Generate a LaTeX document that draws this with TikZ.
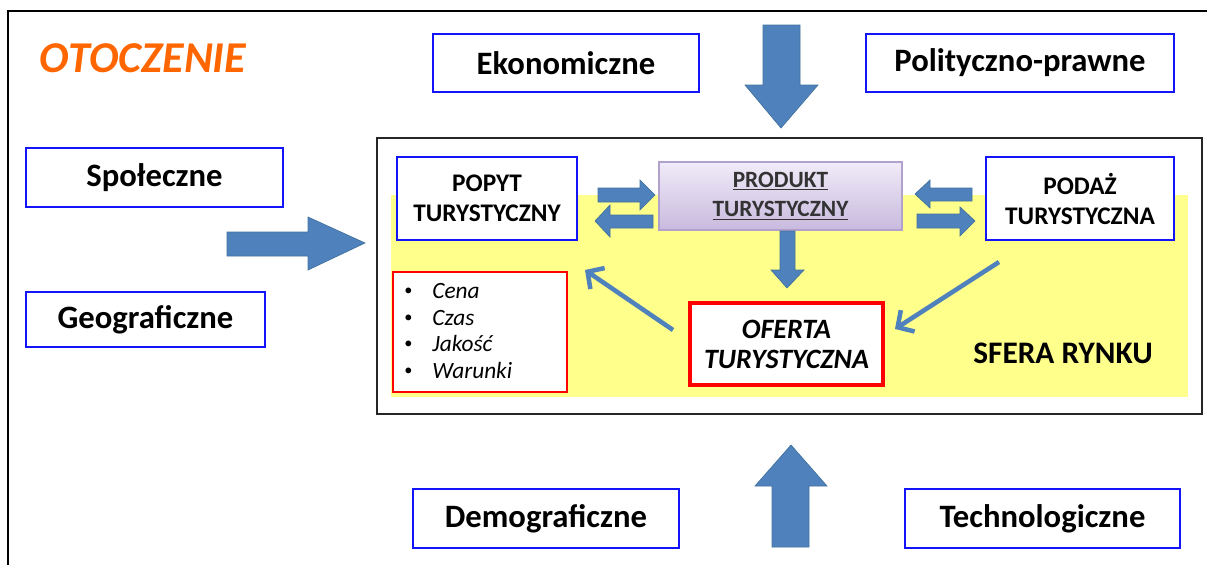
\documentclass[tikz,border=0pt]{standalone}
\usepackage{fontspec}
\setmainfont{Carlito}
\usetikzlibrary{arrows.meta}
\definecolor{boxblue}{RGB}{20,20,250}
\definecolor{arrowblue}{RGB}{79,129,189}
\definecolor{arrowedge}{RGB}{65,113,156}
\definecolor{sphere}{RGB}{255,255,140}
\definecolor{otoc}{RGB}{255,102,0}
\definecolor{prodtop}{RGB}{240,235,248}
\definecolor{prodbot}{RGB}{200,186,222}
\definecolor{prodedge}{RGB}{178,161,204}
\definecolor{offred}{RGB}{255,0,0}
\newcommand{\smallbul}{\upshape\raisebox{0.25ex}{\scalebox{0.7}{\textbullet}}}
\begin{document}
\begin{tikzpicture}[x=0.75pt,y=-0.75pt,
  factor/.style={draw=boxblue, line width=2.2pt, fill=white, inner sep=0pt,
    font=\bfseries\fontsize{24.5}{28}\selectfont},
  market/.style={draw=boxblue, line width=2.2pt, fill=white, inner sep=0pt, align=center,
    font=\bfseries\fontsize{19}{22.5}\selectfont},
  product/.style={draw=prodedge, line width=0.8pt, top color=prodtop, bottom color=prodbot,
    inner sep=0pt, align=center, text=black!80, font=\bfseries\fontsize{17.5}{22}\selectfont},
  offer/.style={draw=offred, line width=3pt, fill=white, inner sep=0pt, align=center,
    font=\bfseries\itshape\fontsize{21}{22.5}\selectfont},
  listbox/.style={draw=offred, line width=2pt, fill=white, inner sep=0pt},
  blockarrow/.style={fill=arrowblue, draw=arrowedge, line width=0.5pt},
  thinarrow/.style={draw=arrowblue, line width=3.4pt,
    -{Straight Barb[length=9pt,width=19pt,line width=3.4pt]}},
]
\useasboundingbox (0,0) rectangle (1207,565);
% outer frame (cropped: only top and left edges visible)
\draw[line width=1.8pt] (8,565) -- (8,11) -- (1207,11);

\node[font=\bfseries\itshape\fontsize{33}{38}\selectfont, text=otoc] (otoczenie) at (143,58) {OTOCZENIE};

% external factors
\node[factor, minimum width=266*0.75pt, minimum height=58*0.75pt] (ekon) at (566,63) {Ekonomiczne};
\node[factor, minimum width=308*0.75pt, minimum height=58*0.75pt] (polit) at (1020,63) {Polityczno-prawne};
\node[factor, minimum width=257*0.75pt, minimum height=59*0.75pt] (spol) at (154.5,177.5) {Społeczne};
\node[factor, minimum width=239*0.75pt, minimum height=55*0.75pt] (geo) at (145.5,319.5) {Geograficzne};
\node[factor, minimum width=266*0.75pt, minimum height=59*0.75pt] (demo) at (546,518.5) {Demograficzne};
\node[factor, minimum width=275*0.75pt, minimum height=59*0.75pt] (tech) at (1042.5,518.5) {Technologiczne};

% inner frame and market sphere
\node[draw=black!85, line width=1.3pt, fill=white, minimum width=825*0.75pt, minimum height=276*0.75pt, inner sep=0pt] (inner) at (789.5,276) {};
\fill[sphere] (391,195) rectangle (1188,397);

% big block arrows into the inner frame
\draw[blockarrow] (763,25) -- (800,25) -- (800,85) -- (818,85) -- (781,128) -- (745,85) -- (763,85) -- cycle;
\draw[blockarrow] (772,547) -- (809,547) -- (809,486) -- (827,486) -- (791,445) -- (755,486) -- (772,486) -- cycle;
\draw[blockarrow] (227,232) -- (308,232) -- (308,217) -- (365,243) -- (308,270) -- (308,256) -- (227,256) -- cycle;

% market nodes
\node[market, minimum width=180*0.75pt, minimum height=83*0.75pt] (popyt) at (487,198.5) {POPYT\\TURYSTYCZNY};
\node[product, minimum width=243*0.75pt, minimum height=68*0.75pt] (prod) at (780.5,196) {\underline{PRODUKT}\\\underline{TURYSTYCZNY}};
\node[market, minimum width=188*0.75pt, minimum height=83*0.75pt] (podaz) at (1080,198.5) {PODAŻ\\TURYSTYCZNA};
\node[offer, minimum width=193*0.75pt, minimum height=82*0.75pt] (oferta) at (786.5,344) {OFERTA\\TURYSTYCZNA};
\node[listbox, minimum width=174*0.75pt, minimum height=120*0.75pt] (lista) at (480,332) {};
\node[anchor=west, inner sep=0pt, font=\itshape\fontsize{17.5}{20}\selectfont] (items) at (404,333)
  {\begin{tabular}{@{}l@{\hspace{15pt}}l@{}}
   \smallbul & Cena\\
   \smallbul & Czas\\
   \smallbul & Jakość\\
   \smallbul & Warunki
   \end{tabular}};
\node[font=\bfseries\fontsize{23.5}{26}\selectfont] (sfera) at (1063,353) {SFERA RYNKU};

% small block arrows between popyt, produkt, podaz
\draw[blockarrow] (598,188) -- (640,188) -- (640,180) -- (655,195) -- (640,210) -- (640,202) -- (598,202) -- cycle;
\draw[blockarrow] (653,215) -- (610,215) -- (610,205) -- (595,221) -- (610,237) -- (610,228) -- (653,228) -- cycle;
\draw[blockarrow] (972,188) -- (930,188) -- (930,180) -- (915,194) -- (930,208) -- (930,201) -- (972,201) -- cycle;
\draw[blockarrow] (917,214) -- (960,214) -- (960,207) -- (975,221) -- (960,236) -- (960,228) -- (917,228) -- cycle;
\draw[blockarrow] (780,231) -- (795,231) -- (795,270) -- (804,270) -- (787,288) -- (771,270) -- (780,270) -- cycle;

% thin arrows
\coordinate (ofl) at (673,330);
\coordinate (popend) at (585,270);
\coordinate (podstart) at (999,262);
\coordinate (ofr) at (895,329);
\draw[thinarrow] (ofl) -- (popend);
\draw[thinarrow] (podstart) -- (ofr);
\end{tikzpicture}
\end{document}
